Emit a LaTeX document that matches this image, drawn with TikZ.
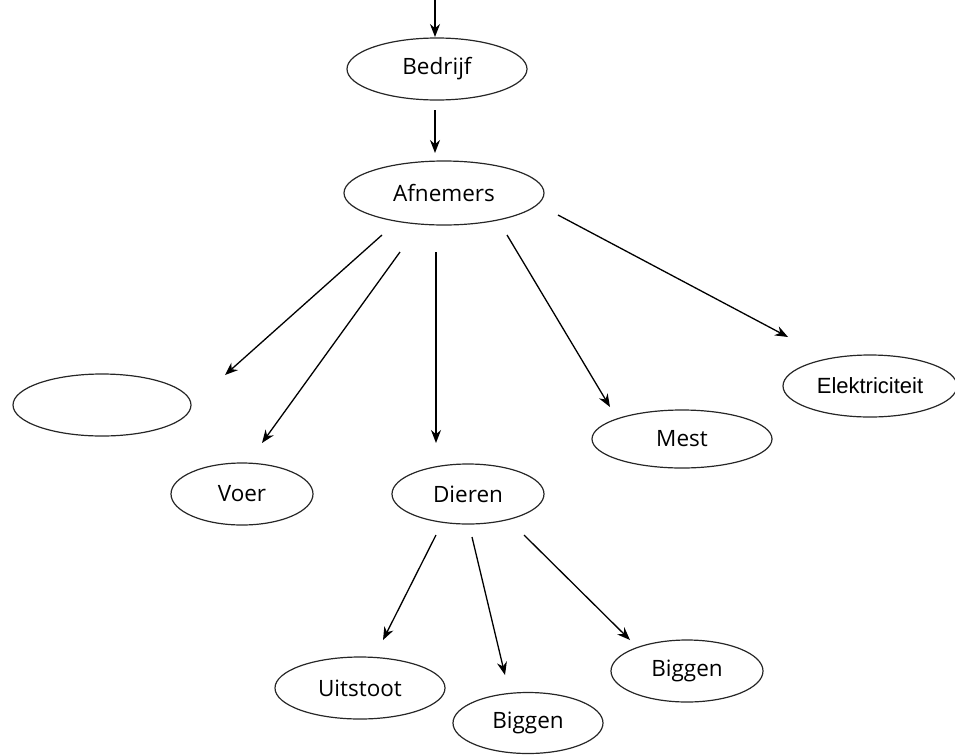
\documentclass[tikz,border=0pt]{standalone}
\usepackage{fontspec}
\setmainfont{Open Sans}
\newfontfamily\arialf{Liberation Sans}
\usetikzlibrary{shapes.geometric,arrows.meta}
\tikzset{
  ell/.style={draw=black!85, line width=1.2pt, ellipse, inner sep=0pt, font=\fontsize{22.5}{25}\selectfont},
  arr/.style={line width=1.3pt, -{Stealth[length=13pt,width=10pt]}},
}
\begin{document}
\begin{tikzpicture}[x=1pt,y=-1pt]
\useasboundingbox (0,0) rectangle (955,755);
\node[ell, minimum width=180pt, minimum height=62pt] (bedrijf) at (437,69) {Bedrijf};
\node[ell, minimum width=200pt, minimum height=64pt] (afnemers) at (444,193) {Afnemers};
\node[ell, minimum width=178pt, minimum height=62pt] (leeg) at (102,405) {};
\node[ell, minimum width=142pt, minimum height=62pt] (voer) at (242,494) {Voer};
\node[ell, minimum width=152pt, minimum height=60pt] (dieren) at (468,494) {Dieren};
\node[ell, minimum width=180pt, minimum height=58pt] (mest) at (682,439) {Mest};
\node[ell, minimum width=174pt, minimum height=62pt, font=\arialf\fontsize{22}{25}\selectfont] (elek) at (870,386) {Elektriciteit};
\node[ell, minimum width=170pt, minimum height=62pt] (uitstoot) at (360,688) {Uitstoot};
\node[ell, minimum width=150pt, minimum height=61pt] (biggenA) at (528,723) {Biggen};
\node[ell, minimum width=152pt, minimum height=62pt] (biggenB) at (687,671) {Biggen};

\coordinate (in0) at (435,0);
\coordinate (in1) at (435,37);
\coordinate (b0) at (435,110);
\coordinate (b1) at (435,153);
\coordinate (a1s) at (382,235);
\coordinate (a1e) at (225,375);
\coordinate (a2s) at (400,252);
\coordinate (a2e) at (262,443);
\coordinate (a3s) at (436,252);
\coordinate (a3e) at (436,443);
\coordinate (a4s) at (507,235);
\coordinate (a4e) at (610,407);
\coordinate (a5s) at (558,215);
\coordinate (a5e) at (788,337);
\coordinate (d1s) at (436,535);
\coordinate (d1e) at (383,640);
\coordinate (d2s) at (472,537);
\coordinate (d2e) at (505,675);
\coordinate (d3s) at (524,535);
\coordinate (d3e) at (630,640);

\draw[arr] (in0) -- (in1);
\draw[arr] (b0) -- (b1);
\draw[arr] (a1s) -- (a1e);
\draw[arr] (a2s) -- (a2e);
\draw[arr] (a3s) -- (a3e);
\draw[arr] (a4s) -- (a4e);
\draw[arr] (a5s) -- (a5e);
\draw[arr] (d1s) -- (d1e);
\draw[arr] (d2s) -- (d2e);
\draw[arr] (d3s) -- (d3e);
\end{tikzpicture}
\end{document}
